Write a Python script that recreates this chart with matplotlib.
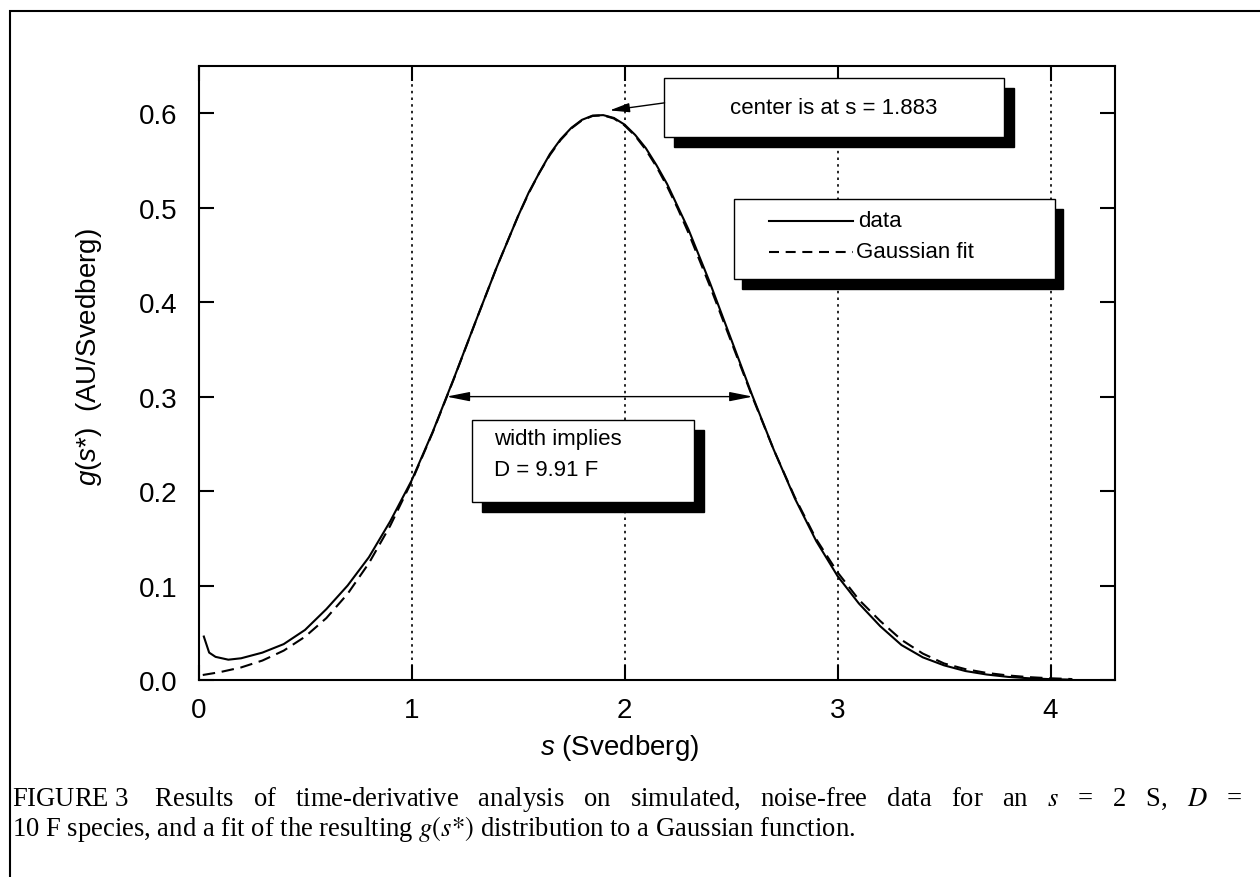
import matplotlib
matplotlib.use('Agg')
import matplotlib.pyplot as plt
from matplotlib.patches import Rectangle
from matplotlib.lines import Line2D
from matplotlib.transforms import ScaledTranslation

plt.rcParams['font.family'] = ['Liberation Sans', 'DejaVu Sans']
plt.rcParams['mathtext.fontset'] = 'custom'
plt.rcParams['mathtext.rm'] = 'Liberation Sans'
plt.rcParams['mathtext.it'] = 'Liberation Sans:italic'

# g(s*) from time-derivative analysis (solid) and its Gaussian fit (dashed),
# values
s_data = [0.025, 0.05, 0.08, 0.14, 0.2, 0.3, 0.4, 0.5, 0.6, 0.7, 0.8, 0.9, 1.0,
          1.1, 1.2, 1.3, 1.4, 1.5, 1.55, 1.6, 1.65, 1.7, 1.75, 1.8, 1.85, 1.9,
          1.95, 2.0, 2.05, 2.1, 2.15, 2.2, 2.25, 2.3, 2.4, 2.5, 2.6, 2.7, 2.8,
          2.9, 3.0, 3.1, 3.2, 3.3, 3.4, 3.5, 3.6, 3.7, 3.8, 3.9, 4.0, 4.1]
g_data = [0.046, 0.029, 0.0245, 0.0215, 0.023, 0.029, 0.038, 0.053, 0.075,
          0.100, 0.130, 0.168, 0.211, 0.263, 0.320, 0.379, 0.437, 0.491, 0.516,
          0.537, 0.557, 0.5725, 0.5845, 0.593, 0.5975, 0.598, 0.595, 0.588,
          0.577, 0.563, 0.545, 0.525, 0.501, 0.477, 0.421, 0.361, 0.301, 0.244,
          0.192, 0.147, 0.110, 0.081, 0.057, 0.037, 0.024, 0.0155, 0.0095,
          0.0058, 0.0033, 0.0018, 0.0009, 0.0004]

s_fit = [0.02, 0.1, 0.2, 0.3, 0.4, 0.5, 0.6, 0.7, 0.8, 0.9, 1.0, 1.1, 1.2, 1.3,
         1.4, 1.5, 1.55, 1.6, 1.65, 1.7, 1.75, 1.8, 1.85, 1.9, 1.95, 2.0, 2.05,
         2.1, 2.15, 2.2, 2.25, 2.3, 2.4, 2.5, 2.6, 2.7, 2.8, 2.9, 3.0, 3.1, 3.2,
         3.3, 3.4, 3.5, 3.6, 3.7, 3.8, 3.9, 4.0, 4.1]
g_fit = [0.0053, 0.0083, 0.0133, 0.0206, 0.0311, 0.0458, 0.0655, 0.0912,
         0.1237, 0.1633, 0.2098, 0.2624, 0.3195, 0.3788, 0.4371, 0.4910, 0.5152,
         0.5370, 0.5559, 0.5717, 0.5839, 0.5925, 0.5971, 0.5978, 0.5944, 0.5871,
         0.5760, 0.5613, 0.5434, 0.5225, 0.4990, 0.4734, 0.4175, 0.3586, 0.2997,
         0.2439, 0.1932, 0.1490, 0.114, 0.085, 0.0625, 0.0425, 0.028, 0.0175,
         0.0115, 0.0075, 0.0048, 0.0030, 0.0018, 0.0010]

x_ticks = [0, 1, 2, 3, 4]
y_ticks = [0.0, 0.1, 0.2, 0.3, 0.4, 0.5, 0.6]

# annotation anchors (data units)
peak_tip = (1.93, 0.603)
peak_tail = (2.188, 0.611)
width_lo, width_hi, width_level = 1.164, 2.602, 0.300

# first caption line is justified in the original, hence the wide word gaps
caption1 = ('FIGURE 3    Results   of   time-derivative   analysis   on   simulated,   '
            'noise-free   data   for   an   $s$   =   2   S,   $D$   =')
caption2 = ('10 F species, and a fit of the resulting $g(s{*})$ '
            'distribution to a Gaussian function.')

W, H = 1260, 878
fig = plt.figure(figsize=(W / 100, H / 100), dpi=100)
ax = fig.add_axes([198.5 / W, (H - 681) / H, 916 / W, 614 / H])

# outer frame of the figure panel
fig.add_artist(Rectangle((10 / W, -0.2), 1.5, 1 - 12 / H + 0.2, transform=fig.transFigure,
                         fill=False, ec='k', lw=1.5, clip_on=False))

ax.plot(s_data, g_data, color='k', lw=1.5, label='data', zorder=3)
ax.plot(s_fit, g_fit, color='k', lw=1.5, ls=(0, (6, 3.2)), label='Gaussian fit', zorder=3)

ax.set_xlim(0, 4.3)
ax.set_ylim(0, 0.65)
ax.set_xticks(x_ticks)
ax.set_xticklabels([str(v) for v in x_ticks])
ax.set_yticks(y_ticks)
ax.set_yticklabels(['%.1f' % v for v in y_ticks])
ax.tick_params(direction='in', length=11, width=1.5, top=True, right=True,
               labelsize=20)
ax.tick_params(axis='x', pad=12)
ax.tick_params(axis='y', pad=15)
for sp in ax.spines.values():
    sp.set_linewidth(1.5)
ax.xaxis.grid(True, color='k', lw=1.2, ls=(0, (1.5, 2.5)))

ax.set_xlabel(r'$s$ (Svedberg)', fontsize=20)
ax.xaxis.set_label_coords(0.46, -0.085)
ax.set_ylabel(r'$g(s{*})$  (AU/Svedberg)', fontsize=20)
ax.yaxis.set_label_coords(-0.103, 0.528)

tr = ax.transAxes


def shadow_box(x0, y0, x1, y1, dx=10, dy=10):
    off = ScaledTranslation(dx / fig.dpi, -dy / fig.dpi, fig.dpi_scale_trans)
    ax.add_patch(Rectangle((x0, y0), x1 - x0, y1 - y0, transform=tr + off,
                           fc='k', ec='k', lw=1, zorder=4, clip_on=False))
    ax.add_patch(Rectangle((x0, y0), x1 - x0, y1 - y0, transform=tr,
                           fc='w', ec='k', lw=1, zorder=5, clip_on=False))


# peak annotation
shadow_box(0.508, 0.884, 0.879, 0.981)
ax.text(0.6935, 0.932, 'center is at s = 1.883', transform=tr, fontsize=16,
        ha='center', va='center', zorder=6)
ax.annotate('', xy=peak_tip, xytext=peak_tail,
            arrowprops=dict(arrowstyle='-|>,head_length=1.2,head_width=0.28',
                            mutation_scale=10, color='k', lw=1, shrinkA=0, shrinkB=0),
            zorder=6)

# legend
shadow_box(0.5846, 0.653, 0.935, 0.783, dx=8, dy=10)
ax.add_line(Line2D([0.6228, 0.7144], [0.7476, 0.7476], transform=tr, color='k',
                   lw=1.5, zorder=6))
ax.add_line(Line2D([0.6228, 0.7144], [0.6971, 0.6971], transform=tr, color='k',
                   lw=1.5, ls=(0, (4.8, 3.2)), zorder=6))
ax.text(0.7200, 0.7476, 'data', transform=tr, fontsize=16, va='center', zorder=6)
ax.text(0.7175, 0.6971, 'Gaussian fit', transform=tr, fontsize=16, va='center', zorder=6)

# width annotation
ax.annotate('', xy=(width_lo, width_level), xytext=(width_hi, width_level),
            arrowprops=dict(arrowstyle='<|-|>,head_length=1.4,head_width=0.28',
                            mutation_scale=10, color='k', lw=1, shrinkA=0, shrinkB=0),
            zorder=6)
shadow_box(0.2986, 0.2899, 0.5410, 0.4235)
ax.text(0.3226, 0.394, 'width implies', transform=tr, fontsize=16, va='center', zorder=6)
ax.text(0.3226, 0.3436, 'D = 9.91 F', transform=tr, fontsize=16, va='center', zorder=6)

# caption
fig.text(12 / W, 1 - 806 / H, caption1, family='Liberation Serif', fontsize=19.2,
         math_fontfamily='stix', va='baseline')
fig.text(12 / W, 1 - 836 / H, caption2, family='Liberation Serif', fontsize=19.2,
         math_fontfamily='stix', va='baseline')

fig.savefig('out.png', dpi=100)
